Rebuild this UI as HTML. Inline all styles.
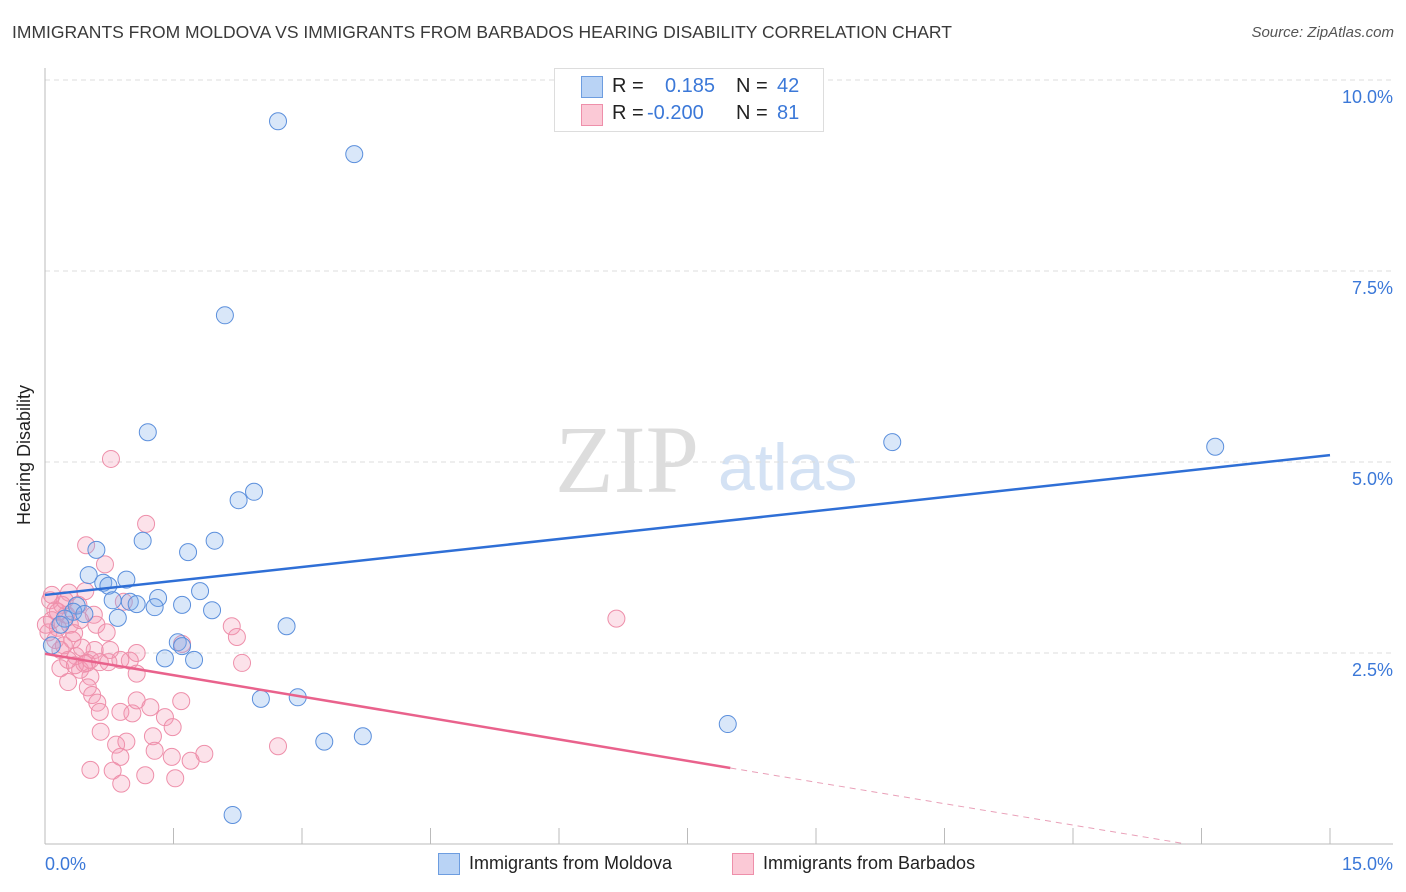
<!DOCTYPE html>
<html><head><meta charset="utf-8"><style>
body{margin:0;background:#fff;font-family:"Liberation Sans",sans-serif;}
#wrap{position:relative;width:1406px;height:892px;overflow:hidden;}
.t{position:absolute;white-space:nowrap;}
</style></head><body>
<div id="wrap">
<div class="t" style="left:12px;top:22px;font-size:17.5px;color:#3a3a3a;">IMMIGRANTS FROM MOLDOVA VS IMMIGRANTS FROM BARBADOS HEARING DISABILITY CORRELATION CHART</div>
<div class="t" style="right:12px;top:24px;font-size:15px;color:#555;font-style:italic;">Source: ZipAtlas.com</div>
<svg id="svg" width="1406" height="892" style="position:absolute;left:0;top:0">
<text x="555" y="492" font-family="Liberation Serif,serif" font-size="96" fill="#ddd">ZIP</text>
<text x="718" y="490" font-family="Liberation Sans,sans-serif" font-size="66" fill="#d4e2f4">atlas</text>
<g id="grid"></g><g id="marks"></g>
<text x="30" y="455" transform="rotate(-90 30 455)" text-anchor="middle" font-size="18" fill="#222">Hearing Disability</text>
</svg>
<div style="position:absolute;left:554px;top:68px;width:268px;height:62px;border:1px solid #ddd;background:#fff;font-size:20px;">
<div style="position:absolute;left:26px;top:7px;width:20px;height:20px;background:#b9d3f5;border:1px solid #6d9de0;"></div>
<div class="t" style="left:57px;top:6px;color:#222;">R =</div><div class="t" style="left:110px;top:6px;color:#3b78d8;">0.185</div>
<div class="t" style="left:181px;top:6px;color:#222;">N =</div><div class="t" style="left:222px;top:6px;color:#3b78d8;">42</div>
<div style="position:absolute;left:26px;top:35px;width:20px;height:20px;background:#fbc9d6;border:1px solid #ee8faa;"></div>
<div class="t" style="left:57px;top:33px;color:#222;">R =</div><div class="t" style="left:92px;top:33px;color:#3b78d8;">-0.200</div>
<div class="t" style="left:181px;top:33px;color:#222;">N =</div><div class="t" style="left:222px;top:33px;color:#3b78d8;">81</div>
</div>
<div style="position:absolute;left:438px;top:853px;font-size:18px;">
<div style="position:absolute;left:0;top:0;width:20px;height:20px;background:#b9d3f5;border:1px solid #6d9de0;"></div>
<div class="t" style="left:31px;top:0;color:#222;">Immigrants from Moldova</div></div>
<div style="position:absolute;left:732px;top:853px;font-size:18px;">
<div style="position:absolute;left:0;top:0;width:20px;height:20px;background:#fbc9d6;border:1px solid #ee8faa;"></div>
<div class="t" style="left:31px;top:0;color:#222;">Immigrants from Barbados</div></div>
</div>
<script>
const yTicks=[2.5,5.0,7.5,10.0];
const xTickLabels=["0.0%","15.0%"];
const moldovaX=[2.72,3.61,2.10,1.20,9.89,13.66,2.44,2.26,1.14,1.98,0.60,1.67,0.51,0.95,0.68,0.74,1.81,1.32,0.79,0.99,1.07,1.28,1.60,1.95,0.37,0.33,0.46,0.85,0.23,2.82,1.55,1.60,1.40,1.74,0.08,2.52,2.95,7.97,3.71,3.26,2.19,0.18];
const moldovaY=[9.46,9.03,6.92,5.39,5.26,5.20,4.61,4.50,3.97,3.97,3.85,3.82,3.52,3.46,3.42,3.38,3.31,3.22,3.19,3.17,3.14,3.10,3.13,3.06,3.12,3.04,3.01,2.96,2.95,2.85,2.64,2.59,2.43,2.41,2.60,1.90,1.92,1.57,1.41,1.34,0.38,2.87];
const barbadosX=[0.77,1.18,0.48,0.70,0.28,0.47,0.57,0.60,0.72,0.92,2.18,2.24,1.60,1.07,0.99,0.74,2.30,1.07,0.53,0.27,0.18,0.41,0.50,0.55,0.61,0.64,0.88,1.02,1.07,1.23,1.40,1.49,1.59,0.65,0.83,0.95,0.88,1.26,1.28,1.48,1.70,1.86,0.53,0.79,0.89,1.17,1.52,2.72,0.36,6.67,0.06,0.12,0.08,0.15,0.04,0.20,0.25,0.29,0.34,0.12,0.22,0.32,0.39,0.43,0.27,0.46,0.15,0.01,0.18,0.53,0.08,0.35,0.58,0.49,0.41,0.23,0.64,0.76,0.88];
const barbadosY=[5.04,4.19,3.91,3.66,3.29,3.31,3.00,2.87,2.77,3.17,2.85,2.71,2.62,2.50,2.40,2.38,2.37,2.23,2.19,2.12,2.30,2.28,2.05,1.95,1.85,1.73,1.73,1.71,1.88,1.79,1.66,1.53,1.87,1.47,1.30,1.34,1.14,1.41,1.22,1.14,1.09,1.18,0.97,0.96,0.79,0.90,0.86,1.28,2.46,2.95,3.19,3.06,2.93,2.83,2.77,3.13,3.00,2.87,2.76,2.67,2.60,2.67,3.13,2.57,2.41,2.36,3.04,2.87,2.54,2.41,3.26,2.34,2.54,2.37,2.93,3.19,2.38,2.54,2.41];
const moldovaTrend=[3.26,5.09];      // y at x=0 and x=15
const barbadosTrend=[2.49,0.995,8.0]; // y at 0, y at solid end, solid end x
const NS="http://www.w3.org/2000/svg";
const X=v=>45+v/15*1285, Y=v=>844-v/2.5*191;
function mk(tag,attrs,parent){const e=document.createElementNS(NS,tag);for(const k in attrs)e.setAttribute(k,attrs[k]);parent.appendChild(e);return e;}
const grid=document.getElementById('grid'), marks=document.getElementById('marks');
yTicks.forEach(t=>{
 const l=mk('line',{x1:45,x2:1393,y1:Y(t),y2:Y(t),stroke:'#ddd','stroke-dasharray':'5,4'},grid);
 
 
 const tx=mk('text',{x:1393,y:Y(t)+23,'text-anchor':'end','font-size':18,fill:'#3b78d8'},grid);
 tx.textContent=t.toFixed(1)+'%';
 
 
});
mk('line',{x1:45,x2:45,y1:68,y2:844,stroke:'#bbb'},grid);
mk('line',{x1:45,x2:1393,y1:844,y2:844,stroke:'#bbb'},grid);
for(let i=0;i<=10;i++){const tk=mk('line',{x1:X(i*1.5),x2:X(i*1.5),y1:828,y2:844,stroke:'#bbb'},grid);
 
 }
const xl0=mk('text',{x:45,y:870,'font-size':18,fill:'#3b78d8'},grid);xl0.textContent=xTickLabels[0];


const xl1=mk('text',{x:1393,y:870,'text-anchor':'end','font-size':18,fill:'#3b78d8'},grid);xl1.textContent=xTickLabels[1];


barbadosX.forEach((x,i)=>{const c=mk('circle',{cx:X(x),cy:Y(barbadosY[i]),r:8.5,fill:'rgba(244,150,178,0.28)',stroke:'#ee8faa','stroke-width':1},marks);
 
 });
moldovaX.forEach((x,i)=>{const c=mk('circle',{cx:X(x),cy:Y(moldovaY[i]),r:8.5,fill:'rgba(130,175,235,0.3)',stroke:'#5b8fdc','stroke-width':1},marks);
 
 });
const bl=mk('line',{x1:X(0),y1:Y(moldovaTrend[0]),x2:X(15),y2:Y(moldovaTrend[1]),stroke:'#2f6fd6','stroke-width':2.5},marks);


const slope=(barbadosTrend[1]-barbadosTrend[0])/barbadosTrend[2];
const pl=mk('line',{x1:X(0),y1:Y(barbadosTrend[0]),x2:X(barbadosTrend[2]),y2:Y(barbadosTrend[1]),stroke:'#e9628c','stroke-width':2.5},marks);


const xz=-barbadosTrend[0]/slope;
const pd=mk('line',{x1:X(barbadosTrend[2]),y1:Y(barbadosTrend[1]),x2:X(xz),y2:Y(0),stroke:'#e9a0b8','stroke-width':1,'stroke-dasharray':'6,5'},marks);


</script>
</body></html>
